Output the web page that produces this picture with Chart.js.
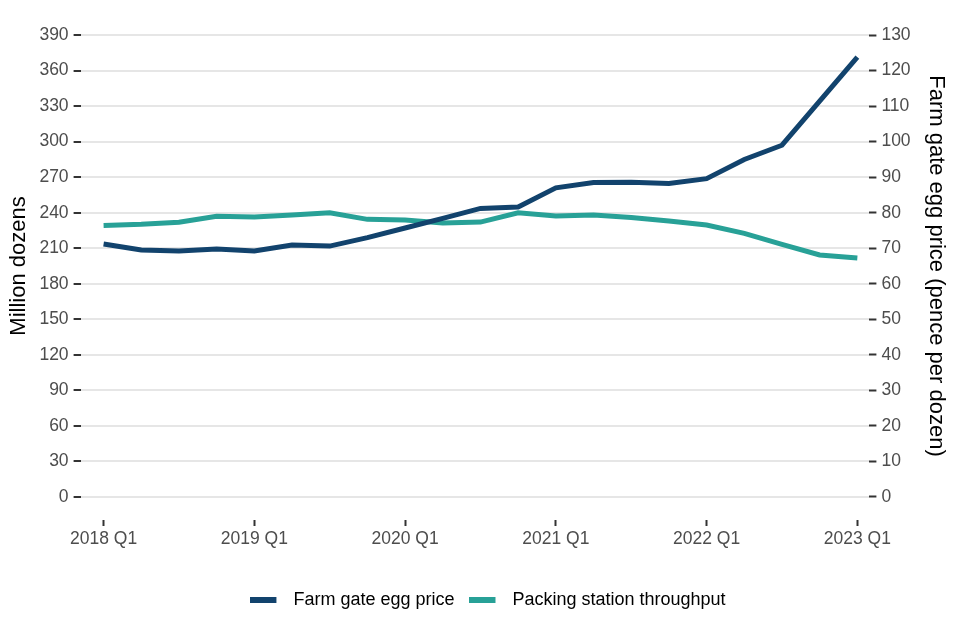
<!DOCTYPE html>
<html>
<head>
<meta charset="utf-8">
<script src="https://cdn.jsdelivr.net/npm/chart.js@4.4.1/dist/chart.umd.min.js"></script>
<style>
  html, body { margin: 0; padding: 0; background: #fff; }
</style>
</head>
<body>
<canvas id="eggChart" width="960" height="640"></canvas>
<script>
// quarters 2018 Q1 .. 2023 Q1
var quarters = ['2018 Q1','2018 Q2','2018 Q3','2018 Q4',
                '2019 Q1','2019 Q2','2019 Q3','2019 Q4',
                '2020 Q1','2020 Q2','2020 Q3','2020 Q4',
                '2021 Q1','2021 Q2','2021 Q3','2021 Q4',
                '2022 Q1','2022 Q2','2022 Q3','2022 Q4',
                '2023 Q1'];
// pence per dozen (right axis)
var farmGatePrice = [71.2, 69.5, 69.2, 69.8, 69.2, 70.9, 70.6, 73.0,
                     75.7, 78.4, 81.2, 81.6, 87.0, 88.5, 88.6, 88.2,
                     89.6, 95.0, 99.0, 111.4, 123.8];
// million dozens (left axis)
var throughput = [229.3, 230.2, 231.9, 237.0, 236.4, 238.0, 240.0, 234.4,
                  233.8, 231.3, 232.1, 240.0, 237.2, 238.0, 236.0, 233.0,
                  229.6, 222.6, 213.3, 204.3, 201.8];
var xTickIdx = [0, 4, 8, 12, 16, 20];
var leftTicks = [0,30,60,90,120,150,180,210,240,270,300,330,360,390];
var rightTicks = [0,10,20,30,40,50,60,70,80,90,100,110,120,130];

var FONT = '"Liberation Sans", Arial, sans-serif';
var DARK = '#12436D';
var TEAL = '#28A197';

function pts(arr) {
  return arr.map(function (v, i) { return { x: i, y: v }; });
}

// legend key: short thick line with some empty room on its right
function keyLine(color) {
  var c = document.createElement('canvas');
  c.width = 34; c.height = 6;
  var g = c.getContext('2d');
  g.fillStyle = color;
  g.fillRect(0, 0, 26, 6);
  return c;
}

// vertical axes: no extra room for half tick labels (top label is well inside)
function noPad(scale) {
  scale.paddingTop = 0;
  scale.paddingBottom = 0;
}

// nudge legend a little to the right, like the original
const legendShift = {
  id: 'legendShift',
  afterLayout: function (chart) {
    chart.legend.left += 8;
    chart.legend.right += 8;
  }
};

const config = {
  type: 'line',
  data: {
    datasets: [{
      label: 'Farm gate egg price',
      data: pts(farmGatePrice),
      yAxisID: 'y1',
      borderColor: DARK,
      backgroundColor: DARK,
      borderWidth: 5,
      pointRadius: 0,
      pointStyle: keyLine(DARK),
      tension: 0
    }, {
      label: 'Packing station throughput',
      data: pts(throughput),
      yAxisID: 'y',
      borderColor: TEAL,
      backgroundColor: TEAL,
      borderWidth: 5,
      pointRadius: 0,
      pointStyle: keyLine(TEAL),
      tension: 0
    }]
  },
  plugins: [legendShift],
  options: {
    responsive: false,
    animation: false,
    devicePixelRatio: 1,
    layout: { padding: { left: 4, right: 4, top: 12, bottom: 21 } },
    plugins: {
      tooltip: { enabled: false },
      legend: {
        position: 'bottom',
        labels: {
          usePointStyle: true,
          pointStyleWidth: 34,
          padding: 15,
          color: '#000',
          font: { family: FONT, size: 18 }
        }
      }
    },
    scales: {
      x: {
        type: 'linear',
        min: -0.61,
        max: 20.32,
        afterBuildTicks: function (scale) {
          scale.ticks = xTickIdx.map(function (v) { return { value: v }; });
        },
        afterFit: function (scale) { scale.height = 56; },
        border: { display: false },
        grid: { drawOnChartArea: false, tickLength: 6, tickColor: '#333', tickWidth: 2 },
        ticks: {
          color: '#4d4d4d',
          padding: 3,
          maxRotation: 0,
          font: { family: FONT, size: 17.5 },
          callback: function (v) { return quarters[v]; }
        }
      },
      y: {
        position: 'left',
        min: -19.5,
        max: 409.5,
        afterBuildTicks: function (scale) {
          scale.ticks = leftTicks.map(function (v) { return { value: v }; });
        },
        afterFit: noPad,
        border: { display: false },
        grid: { color: '#e6e6e6', lineWidth: 2, tickLength: 7, tickColor: '#333', tickWidth: 2 },
        ticks: { color: '#4d4d4d', padding: 5, font: { family: FONT, size: 17.5 } },
        title: { display: true, text: 'Million dozens', color: '#000', padding: 2, font: { family: FONT, size: 22 } }
      },
      y1: {
        position: 'right',
        min: -6.5,
        max: 136.5,
        afterBuildTicks: function (scale) {
          scale.ticks = rightTicks.map(function (v) { return { value: v }; });
        },
        afterFit: noPad,
        border: { display: false },
        grid: { drawOnChartArea: false, tickLength: 7, tickColor: '#333', tickWidth: 2 },
        ticks: { color: '#4d4d4d', padding: 5, font: { family: FONT, size: 17.5 } },
        title: { display: true, text: 'Farm gate egg price (pence per dozen)', color: '#000', padding: { top: 7, bottom: 7 }, font: { family: FONT, size: 22 } }
      }
    }
  }
};

const eggChart = new Chart(document.getElementById('eggChart').getContext('2d'), config);
</script>
</body>
</html>
